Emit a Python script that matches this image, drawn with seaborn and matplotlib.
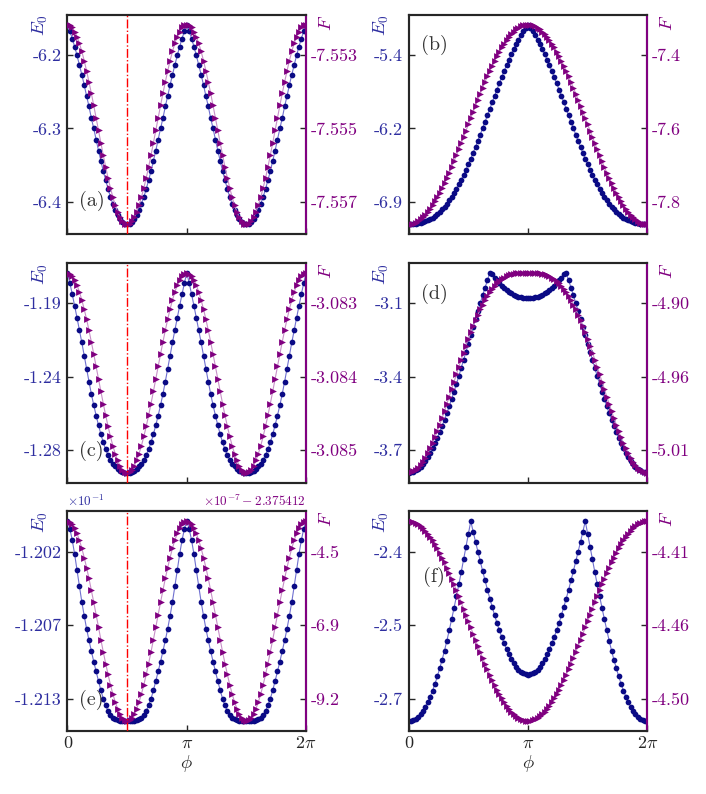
import numpy as np
import seaborn as sns
from matplotlib import pyplot as plt

# phase grid, 101 samples over one period
PHI = np.linspace(0, 2 * np.pi, 101)

# ---- (a) ----
E0_A = [-6.159, -6.168, -6.178, -6.189, -6.201, -6.214, -6.227, -6.241, -6.256, -6.270,
        -6.286, -6.300, -6.315, -6.330, -6.344, -6.358, -6.370, -6.382, -6.393, -6.402,
        -6.411, -6.418, -6.423, -6.427, -6.430, -6.430,
        -6.430, -6.427, -6.423, -6.418, -6.411, -6.402, -6.393, -6.382, -6.370, -6.358,
        -6.344, -6.330, -6.315, -6.300, -6.286, -6.270, -6.256, -6.241, -6.227, -6.214,
        -6.201, -6.189, -6.178, -6.168, -6.159,
        -6.168, -6.178, -6.189, -6.201, -6.214, -6.227, -6.241, -6.256, -6.270, -6.286,
        -6.300, -6.315, -6.330, -6.344, -6.358, -6.370, -6.382, -6.393, -6.402, -6.411,
        -6.418, -6.423, -6.427, -6.430, -6.430,
        -6.430, -6.427, -6.423, -6.418, -6.411, -6.402, -6.393, -6.382, -6.370, -6.358,
        -6.344, -6.330, -6.315, -6.300, -6.286, -6.270, -6.256, -6.241, -6.227, -6.214,
        -6.201, -6.189, -6.178, -6.168, -6.159]
F_A = [-7.55218, -7.55220, -7.55226, -7.55237, -7.55251, -7.55269, -7.55291, -7.55316, -7.55344,
       -7.55374, -7.55405, -7.55438, -7.55472, -7.55506, -7.55540, -7.55573, -7.55605, -7.55635,
       -7.55662, -7.55687, -7.55709, -7.55727, -7.55742, -7.55752, -7.55759, -7.55761,
       -7.55759, -7.55752, -7.55742, -7.55727, -7.55709, -7.55687, -7.55662, -7.55635, -7.55605,
       -7.55573, -7.55540, -7.55506, -7.55472, -7.55438, -7.55405, -7.55374, -7.55344, -7.55316,
       -7.55291, -7.55269, -7.55251, -7.55237, -7.55226, -7.55220, -7.55218,
       -7.55220, -7.55226, -7.55237, -7.55251, -7.55269, -7.55291, -7.55316, -7.55344, -7.55374,
       -7.55405, -7.55438, -7.55472, -7.55506, -7.55540, -7.55573, -7.55605, -7.55635, -7.55662,
       -7.55687, -7.55709, -7.55727, -7.55742, -7.55752, -7.55759, -7.55761,
       -7.55759, -7.55752, -7.55742, -7.55727, -7.55709, -7.55687, -7.55662, -7.55635, -7.55605,
       -7.55573, -7.55540, -7.55506, -7.55472, -7.55438, -7.55405, -7.55374, -7.55344, -7.55316,
       -7.55291, -7.55269, -7.55251, -7.55237, -7.55226, -7.55220, -7.55218]

# ---- (c) ----
E0_C = [-1.1739, -1.1801, -1.1870, -1.1941, -1.2015, -1.2090, -1.2165, -1.2245, -1.2325, -1.2404,
        -1.2480, -1.2549, -1.2612, -1.2672, -1.2727, -1.2777, -1.2819, -1.2853, -1.2883, -1.2906,
        -1.2924, -1.2939, -1.2949, -1.2956, -1.2961, -1.2962,
        -1.2961, -1.2956, -1.2949, -1.2939, -1.2924, -1.2906, -1.2883, -1.2853, -1.2819, -1.2777,
        -1.2727, -1.2672, -1.2612, -1.2549, -1.2480, -1.2404, -1.2325, -1.2245, -1.2165, -1.2090,
        -1.2015, -1.1941, -1.1870, -1.1801, -1.1739,
        -1.1801, -1.1870, -1.1941, -1.2015, -1.2090, -1.2165, -1.2245, -1.2325, -1.2404, -1.2480,
        -1.2549, -1.2612, -1.2672, -1.2727, -1.2777, -1.2819, -1.2853, -1.2883, -1.2906, -1.2924,
        -1.2939, -1.2949, -1.2956, -1.2961, -1.2962,
        -1.2961, -1.2956, -1.2949, -1.2939, -1.2924, -1.2906, -1.2883, -1.2853, -1.2819, -1.2777,
        -1.2727, -1.2672, -1.2612, -1.2549, -1.2480, -1.2404, -1.2325, -1.2245, -1.2165, -1.2090,
        -1.2015, -1.1941, -1.1870, -1.1801, -1.1739]
F_C = [-3.082587, -3.082598, -3.082630, -3.082682, -3.082755, -3.082846, -3.082955, -3.083080,
       -3.083218, -3.083367, -3.083526, -3.083691, -3.083860, -3.084031, -3.084200, -3.084365,
       -3.084524, -3.084673, -3.084811, -3.084936, -3.085045, -3.085136, -3.085209, -3.085261,
       -3.085293, -3.085304,
       -3.085293, -3.085261, -3.085209, -3.085136, -3.085045, -3.084936, -3.084811, -3.084673,
       -3.084524, -3.084365, -3.084200, -3.084031, -3.083860, -3.083691, -3.083526, -3.083367,
       -3.083218, -3.083080, -3.082955, -3.082846, -3.082755, -3.082682, -3.082630, -3.082598,
       -3.082587,
       -3.082598, -3.082630, -3.082682, -3.082755, -3.082846, -3.082955, -3.083080, -3.083218,
       -3.083367, -3.083526, -3.083691, -3.083860, -3.084031, -3.084200, -3.084365, -3.084524,
       -3.084673, -3.084811, -3.084936, -3.085045, -3.085136, -3.085209, -3.085261, -3.085293,
       -3.085304,
       -3.085293, -3.085261, -3.085209, -3.085136, -3.085045, -3.084936, -3.084811, -3.084673,
       -3.084524, -3.084365, -3.084200, -3.084031, -3.083860, -3.083691, -3.083526, -3.083367,
       -3.083218, -3.083080, -3.082955, -3.082846, -3.082755, -3.082682, -3.082630, -3.082598,
       -3.082587]

# ---- (e) ----
E0_E = [-0.119942, -0.119999, -0.120084, -0.120189, -0.120309, -0.120428, -0.120545, -0.120649,
        -0.120746, -0.120833, -0.120914, -0.120992, -0.121066, -0.121138, -0.121208, -0.121270,
        -0.121320, -0.121362, -0.121392, -0.121412, -0.121424, -0.121431, -0.121434, -0.121435,
        -0.121437, -0.121437,
        -0.121437, -0.121435, -0.121434, -0.121431, -0.121424, -0.121412, -0.121392, -0.121362,
        -0.121320, -0.121270, -0.121208, -0.121138, -0.121066, -0.120992, -0.120914, -0.120833,
        -0.120746, -0.120649, -0.120545, -0.120428, -0.120309, -0.120189, -0.120084, -0.119999,
        -0.119942,
        -0.119999, -0.120084, -0.120189, -0.120309, -0.120428, -0.120545, -0.120649, -0.120746,
        -0.120833, -0.120914, -0.120992, -0.121066, -0.121138, -0.121208, -0.121270, -0.121320,
        -0.121362, -0.121392, -0.121412, -0.121424, -0.121431, -0.121434, -0.121435, -0.121437,
        -0.121437,
        -0.121437, -0.121435, -0.121434, -0.121431, -0.121424, -0.121412, -0.121392, -0.121362,
        -0.121320, -0.121270, -0.121208, -0.121138, -0.121066, -0.120992, -0.120914, -0.120833,
        -0.120746, -0.120649, -0.120545, -0.120428, -0.120309, -0.120189, -0.120084, -0.119999,
        -0.119942]
# F in panel (e) is given as in the plot: value x 1e-7 - 2.375412
F_E_OFFSET = -2.375412
F_E_SCALE = 1e-7
F_E = [-3.56, -3.58, -3.66, -3.78, -3.95, -4.17, -4.42, -4.72, -5.04, -5.39, -5.77, -6.15, -6.55,
       -6.95, -7.35, -7.74, -8.11, -8.46, -8.79, -9.08, -9.34, -9.55, -9.72, -9.85, -9.92, -9.95,
       -9.92, -9.85, -9.72, -9.55, -9.34, -9.08, -8.79, -8.46, -8.11, -7.74, -7.35, -6.95, -6.55,
       -6.15, -5.77, -5.39, -5.04, -4.72, -4.42, -4.17, -3.95, -3.78, -3.66, -3.58, -3.56,
       -3.58, -3.66, -3.78, -3.95, -4.17, -4.42, -4.72, -5.04, -5.39, -5.77, -6.15, -6.55,
       -6.95, -7.35, -7.74, -8.11, -8.46, -8.79, -9.08, -9.34, -9.55, -9.72, -9.85, -9.92, -9.95,
       -9.92, -9.85, -9.72, -9.55, -9.34, -9.08, -8.79, -8.46, -8.11, -7.74, -7.35, -6.95, -6.55,
       -6.15, -5.77, -5.39, -5.04, -4.72, -4.42, -4.17, -3.95, -3.78, -3.66, -3.58, -3.56]

# ---- (b) ----
E0_B = [-7.148, -7.147, -7.146, -7.143, -7.139, -7.134, -7.127, -7.118, -7.107, -7.094,
        -7.079, -7.062, -7.042, -7.020, -6.995, -6.967, -6.937, -6.904, -6.867, -6.828,
        -6.786, -6.741, -6.694, -6.644, -6.591, -6.536, -6.479, -6.419, -6.358, -6.295,
        -6.232, -6.167, -6.102, -6.036, -5.969, -5.903, -5.838, -5.773, -5.709, -5.646,
        -5.585, -5.525, -5.468, -5.413, -5.360, -5.311, -5.264, -5.220, -5.179, -5.144, -5.110,
        -5.144, -5.179, -5.220, -5.264, -5.311, -5.360, -5.413, -5.468, -5.525, -5.585,
        -5.646, -5.709, -5.773, -5.838, -5.903, -5.969, -6.036, -6.102, -6.167, -6.232,
        -6.295, -6.358, -6.419, -6.479, -6.536, -6.591, -6.644, -6.694, -6.741, -6.786,
        -6.828, -6.867, -6.904, -6.937, -6.967, -6.995, -7.020, -7.042, -7.062, -7.079,
        -7.094, -7.107, -7.118, -7.127, -7.134, -7.139, -7.143, -7.146, -7.147, -7.148]
F_B = [-7.8610, -7.8605, -7.8589, -7.8562, -7.8525, -7.8477, -7.8419, -7.8351, -7.8274, -7.8187,
       -7.8091, -7.7986, -7.7873, -7.7753, -7.7625, -7.7490, -7.7349, -7.7202, -7.7050, -7.6893,
       -7.6732, -7.6568, -7.6402, -7.6233, -7.6063, -7.5893, -7.5722, -7.5552, -7.5383, -7.5217,
       -7.5053, -7.4892, -7.4735, -7.4583, -7.4436, -7.4295, -7.4160, -7.4032, -7.3911, -7.3799,
       -7.3694, -7.3598, -7.3511, -7.3434, -7.3366, -7.3308, -7.3260, -7.3223, -7.3196, -7.3180,
       -7.3175,
       -7.3180, -7.3196, -7.3223, -7.3260, -7.3308, -7.3366, -7.3434, -7.3511, -7.3598, -7.3694,
       -7.3799, -7.3911, -7.4032, -7.4160, -7.4295, -7.4436, -7.4583, -7.4735, -7.4892, -7.5053,
       -7.5217, -7.5383, -7.5552, -7.5722, -7.5893, -7.6063, -7.6233, -7.6402, -7.6568, -7.6732,
       -7.6893, -7.7050, -7.7202, -7.7349, -7.7490, -7.7625, -7.7753, -7.7873, -7.7986, -7.8091,
       -7.8187, -7.8274, -7.8351, -7.8419, -7.8477, -7.8525, -7.8562, -7.8589, -7.8605, -7.8610]

# ---- (d) ----
E0_D = [-3.791, -3.790, -3.787, -3.782, -3.775, -3.766, -3.755, -3.742, -3.727, -3.710,
        -3.691, -3.671, -3.649, -3.626, -3.601, -3.575, -3.548, -3.520, -3.490, -3.460,
        -3.429, -3.397, -3.364, -3.331, -3.298, -3.265, -3.231, -3.198, -3.164, -3.131,
        -3.099, -3.067, -3.036, -3.006, -2.976, -2.982, -2.995, -3.007, -3.018, -3.028,
        -3.037, -3.045, -3.052, -3.059, -3.065, -3.069, -3.073, -3.076, -3.079, -3.080, -3.080,
        -3.080, -3.079, -3.076, -3.073, -3.069, -3.065, -3.059, -3.052, -3.045, -3.037,
        -3.028, -3.018, -3.007, -2.995, -2.982, -2.976, -3.006, -3.036, -3.067, -3.099,
        -3.131, -3.164, -3.198, -3.231, -3.265, -3.298, -3.331, -3.364, -3.397, -3.429,
        -3.460, -3.490, -3.520, -3.548, -3.575, -3.601, -3.626, -3.649, -3.671, -3.691,
        -3.710, -3.727, -3.742, -3.755, -3.766, -3.775, -3.782, -3.787, -3.790, -3.791]
F_D = [-5.0297, -5.0295, -5.0288, -5.0276, -5.0260, -5.0239, -5.0214, -5.0185, -5.0152, -5.0115,
       -5.0075, -5.0032, -4.9986, -4.9938, -4.9888, -4.9836, -4.9782, -4.9727, -4.9672, -4.9617,
       -4.9561, -4.9506, -4.9451, -4.9398, -4.9346, -4.9295, -4.9247, -4.9200, -4.9156, -4.9114,
       -4.9075, -4.9039, -4.9005, -4.8975, -4.8947, -4.8922, -4.8900, -4.8880, -4.8863, -4.8849,
       -4.8837, -4.8828, -4.8820, -4.8814, -4.8809, -4.8806, -4.8804, -4.8803, -4.8803, -4.8802,
       -4.8802,
       -4.8802, -4.8803, -4.8803, -4.8804, -4.8806, -4.8809, -4.8814, -4.8820, -4.8828, -4.8837,
       -4.8849, -4.8863, -4.8880, -4.8900, -4.8922, -4.8947, -4.8975, -4.9005, -4.9039, -4.9075,
       -4.9114, -4.9156, -4.9200, -4.9247, -4.9295, -4.9346, -4.9398, -4.9451, -4.9506, -4.9561,
       -4.9617, -4.9672, -4.9727, -4.9782, -4.9836, -4.9888, -4.9938, -4.9986, -5.0032, -5.0075,
       -5.0115, -5.0152, -5.0185, -5.0214, -5.0239, -5.0260, -5.0276, -5.0288, -5.0295, -5.0297]

# ---- (f) ----
E0_F = [-2.716, -2.715, -2.714, -2.711, -2.707, -2.702, -2.695, -2.687, -2.677, -2.666,
        -2.654, -2.640, -2.625, -2.608, -2.591, -2.572, -2.552, -2.530, -2.508, -2.485,
        -2.461, -2.437, -2.412, -2.386, -2.360, -2.334, -2.308, -2.329, -2.350, -2.370,
        -2.390, -2.410, -2.429, -2.448, -2.466, -2.483, -2.500, -2.516, -2.531, -2.544,
        -2.557, -2.569, -2.580, -2.589, -2.598, -2.605, -2.611, -2.615, -2.618, -2.620, -2.621,
        -2.620, -2.618, -2.615, -2.611, -2.605, -2.598, -2.589, -2.580, -2.569, -2.557,
        -2.544, -2.531, -2.516, -2.500, -2.483, -2.466, -2.448, -2.429, -2.410, -2.390,
        -2.370, -2.350, -2.329, -2.308, -2.334, -2.360, -2.386, -2.412, -2.437, -2.461,
        -2.485, -2.508, -2.530, -2.552, -2.572, -2.591, -2.608, -2.625, -2.640, -2.654,
        -2.666, -2.677, -2.687, -2.695, -2.702, -2.707, -2.711, -2.714, -2.715, -2.716]
F_F = [-4.3944, -4.3945, -4.3949, -4.3955, -4.3963, -4.3974, -4.3987, -4.4002, -4.4020, -4.4039,
       -4.4061, -4.4084, -4.4110, -4.4137, -4.4166, -4.4196, -4.4228, -4.4261, -4.4295, -4.4330,
       -4.4367, -4.4403, -4.4441, -4.4479, -4.4517, -4.4556, -4.4594, -4.4632, -4.4670, -4.4708,
       -4.4744, -4.4781, -4.4816, -4.4850, -4.4883, -4.4915, -4.4945, -4.4974, -4.5001, -4.5027,
       -4.5050, -4.5072, -4.5091, -4.5109, -4.5124, -4.5137, -4.5148, -4.5156, -4.5162, -4.5166,
       -4.5167,
       -4.5166, -4.5162, -4.5156, -4.5148, -4.5137, -4.5124, -4.5109, -4.5091, -4.5072, -4.5050,
       -4.5027, -4.5001, -4.4974, -4.4945, -4.4915, -4.4883, -4.4850, -4.4816, -4.4781, -4.4744,
       -4.4708, -4.4670, -4.4632, -4.4594, -4.4556, -4.4517, -4.4479, -4.4441, -4.4403, -4.4367,
       -4.4330, -4.4295, -4.4261, -4.4228, -4.4196, -4.4166, -4.4137, -4.4110, -4.4084, -4.4061,
       -4.4039, -4.4020, -4.4002, -4.3987, -4.3974, -4.3963, -4.3955, -4.3949, -4.3945, -4.3944]

# tick labels, bottom to top
E0_LABELS = {'a': ['-6.4', '-6.3', '-6.2'], 'b': ['-6.9', '-6.2', '-5.4'],
             'c': ['-1.28', '-1.24', '-1.19'], 'd': ['-3.7', '-3.4', '-3.1'],
             'e': ['-1.213', '-1.207', '-1.202'], 'f': ['-2.7', '-2.5', '-2.4']}
F_LABELS = {'a': ['-7.557', '-7.555', '-7.553'], 'b': ['-7.8', '-7.6', '-7.4'],
            'c': ['-3.085', '-3.084', '-3.083'], 'd': ['-5.01', '-4.96', '-4.90'],
            'e': ['-9.2', '-6.9', '-4.5'], 'f': ['-4.50', '-4.46', '-4.41']}
X_TICKS = [0, np.pi, 2 * np.pi]
X_LABELS = ['0', r'$\pi$', r'$2\pi$']

BLUE = '#0a0a85'
BLUE_LINE = '#7070d0'
BLUE_TEXT = '#2e2ea0'
PURPLE = '#800080'
PURPLE_LINE = '#c890c8'
TICK_FRACS = np.array([0.112, 0.48, 0.848])

sns.set_style('ticks')
plt.rcParams['font.family'] = ['cmr10', 'DejaVu Serif']
plt.rcParams['mathtext.fontset'] = 'cm'
plt.rcParams['axes.unicode_minus'] = False
plt.rcParams['axes.linewidth'] = 1.5

panels = {
    'a': (E0_A, F_A), 'b': (E0_B, F_B),
    'c': (E0_C, F_C), 'd': (E0_D, F_D),
    'e': (E0_E, list(F_E_OFFSET + F_E_SCALE * np.array(F_E))), 'f': (E0_F, F_F),
}
letter_pos = {'a': (0.05, 0.15), 'b': (0.05, 0.86), 'c': (0.05, 0.145),
              'd': (0.05, 0.857), 'e': (0.05, 0.14), 'f': (0.06, 0.70)}

fig, axes = plt.subplots(3, 2, figsize=(7.06, 7.94), dpi=100)
fig.subplots_adjust(left=0.0956, right=0.9169, bottom=0.0793, top=0.9817,
                    wspace=0.43, hspace=0.13)

for i, key in enumerate('abcdef'):
    row, col = divmod(i, 2)
    ax = axes[row, col]
    e0, fv = panels[key]
    assert len(e0) == 101 and len(fv) == 101, key

    sns.lineplot(x=PHI, y=e0, ax=ax, color=BLUE_LINE, linewidth=0.8, sort=False, errorbar=None)
    sns.scatterplot(x=PHI, y=e0, ax=ax, color=BLUE, marker='o', s=17, linewidth=0, zorder=3)

    ax2 = ax.twinx()
    sns.lineplot(x=PHI, y=fv, ax=ax2, color=PURPLE_LINE, linewidth=0.8, sort=False, errorbar=None)
    sns.scatterplot(x=PHI, y=fv, ax=ax2, color=PURPLE, marker='>', s=24, linewidth=0, zorder=3)

    ax.set_xlim(0, 2 * np.pi)
    ax.set_xticks(X_TICKS)
    if row == 2:
        ax.set_xticklabels(X_LABELS, fontsize=13.5)
        ax.set_xlabel(r'$\phi$', fontsize=13.5, labelpad=1)
    else:
        ax.set_xticklabels([])

    lo, hi = min(e0), max(e0)
    ax.set_yticks(lo + TICK_FRACS * (hi - lo), E0_LABELS[key])
    lo, hi = min(fv), max(fv)
    ax2.set_yticks(lo + TICK_FRACS * (hi - lo), F_LABELS[key])

    ax.tick_params(direction='in', length=4, width=1, labelsize=13)
    ax.tick_params(axis='y', labelcolor=BLUE_TEXT, pad=4)
    ax2.tick_params(axis='y', direction='in', length=4, width=1, labelsize=13,
                    labelcolor=PURPLE, pad=3)
    for sp in ax2.spines.values():
        sp.set_linewidth(1.5)
    ax2.spines['right'].set_color(PURPLE)

    ax.set_ylabel(r'$E_0$', loc='top', fontsize=13.5, color=BLUE_TEXT)
    ax.yaxis.set_label_coords(-0.075, 1.0)
    ax2.set_ylabel(r'$F$', loc='top', fontsize=13.5, color=PURPLE)
    ax2.yaxis.set_label_coords(1.045, 1.0)

    if col == 0:
        ax2.axvline(np.pi / 2, color='red', linestyle='-.', linewidth=1, zorder=4)

    lx, ly = letter_pos[key]
    ax.text(lx, ly, f'({key})', transform=ax.transAxes, fontsize=14.5,
            ha='left', va='center', color='#333333', zorder=5)

    if key == 'e':
        ax.text(0.0, 1.012, r'$\times10^{-1}$', transform=ax.transAxes,
                fontsize=9.5, color=BLUE_TEXT, ha='left', va='bottom')
        ax2.text(1.0, 1.012, r'$\times10^{-7}-2.375412$', transform=ax2.transAxes,
                 fontsize=9.5, color=PURPLE, ha='right', va='bottom')

fig.savefig('out.png', dpi=100)
